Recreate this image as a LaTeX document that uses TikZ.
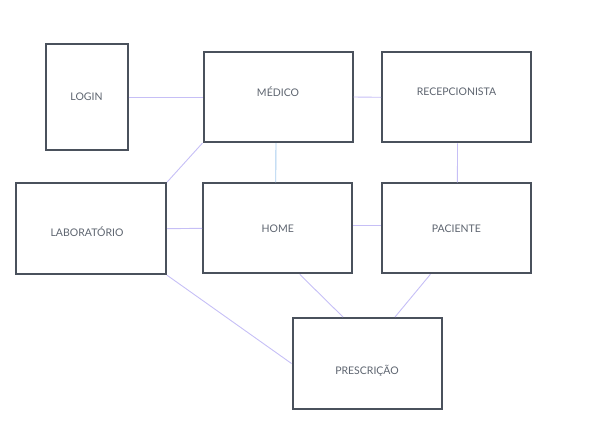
\documentclass[tikz,border=0pt]{standalone}
\usepackage{fontspec}
\setmainfont{Lato}
\definecolor{boxline}{HTML}{4A515C}
\definecolor{boxtext}{HTML}{5E6570}
\definecolor{lav}{HTML}{C6BFF6}
\definecolor{lblue}{HTML}{A8CCEE}
\tikzset{
  entity/.style={draw=boxline, line width=2pt, fill=white, inner sep=0pt},
  lbl/.style={text=boxtext, font=\fontsize{10.5}{12}\selectfont},
  conn/.style={draw=lav, line width=0.9pt},
  connb/.style={draw=lblue, line width=0.9pt}
}
\begin{document}
\begin{tikzpicture}[x=1pt,y=-1pt]
\useasboundingbox (0,0) rectangle (604,434);
% boxes
\node[entity, minimum width=82pt, minimum height=106pt] (login) at (86.5,97) {};
\node[entity, minimum width=149pt, minimum height=90pt] (medico) at (278,97) {};
\node[entity, minimum width=149pt, minimum height=90pt] (recep) at (456.5,97.3) {};
\node[entity, minimum width=150pt, minimum height=91pt] (lab) at (91,228.7) {};
\node[entity, minimum width=149pt, minimum height=90pt] (home) at (277.7,228.3) {};
\node[entity, minimum width=149pt, minimum height=90pt] (pac) at (456.4,228.3) {};
\node[entity, minimum width=149pt, minimum height=91pt] (presc) at (367,363.5) {};
% labels
\node[lbl] (tlogin) at (login.center) {LOGIN};
\node[lbl] (tmedico) at ([yshift=5pt]medico.center) {MÉDICO};
\node[lbl] (trecep) at ([yshift=5.5pt]recep.center) {RECEPCIONISTA};
\node[lbl] (tlab) at ([yshift=-3pt,xshift=-4pt]lab.center) {LABORATÓRIO};
\node[lbl] (thome) at (home.center) {HOME};
\node[lbl] (tpac) at ([yshift=-0.5pt]pac.center) {PACIENTE};
\node[lbl] (tpresc) at ([yshift=-7pt]presc.center) {PRESCRIÇÃO};
% connectors
\draw[conn] (login.east) -- (medico.west);
\draw[conn] (medico.east) -- (recep.west);
\draw[connb] ([xshift=-2pt]medico.south) -- ([xshift=-2pt]home.north);
\draw[conn] ([xshift=1pt]recep.south) -- ([xshift=1pt]pac.north);
\draw[conn] (medico.south west) -- (lab.north east);
\draw[conn] (lab.east) -- (home.west);
\draw[conn] ([yshift=3pt]home.east) -- ([yshift=3pt]pac.west);
\draw[conn] ([xshift=22pt]home.south) -- ([xshift=-24pt]presc.north);
\draw[conn] ([xshift=-26pt]pac.south) -- ([xshift=28pt]presc.north);
\draw[conn] (lab.south east) -- (presc.west);
\end{tikzpicture}
\end{document}
